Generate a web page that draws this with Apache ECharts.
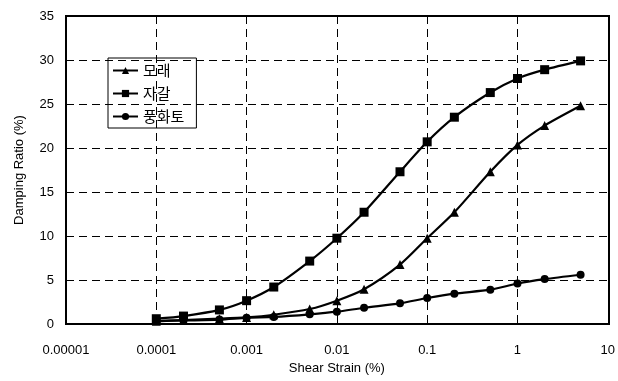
<!DOCTYPE html>
<html>
<head>
<meta charset="utf-8">
<script src="https://cdn.jsdelivr.net/npm/echarts@6/dist/echarts.min.js"></script>
<style>
  html, body { margin: 0; padding: 0; background: #fff; }
  #chart { width: 618px; height: 381px; }
</style>
</head>
<body>
<div id="chart"></div>
<script>
// Shear strain (%) at which damping was measured
const strain = [0.0001, 0.0002, 0.0005, 0.001, 0.002, 0.005, 0.01, 0.02, 0.05, 0.1, 0.2, 0.5, 1, 2, 5];

// Damping ratio (%) for each soil type
const sand = [0.3, 0.45, 0.6, 0.75, 1.05, 1.7, 2.65, 3.95, 6.75, 9.75, 12.7, 17.3, 20.35, 22.55, 24.8];
const gravel = [0.6, 0.9, 1.6, 2.65, 4.2, 7.15, 9.75, 12.7, 17.3, 20.7, 23.5, 26.3, 27.9, 28.9, 29.9];
const weathered = [0.35, 0.4, 0.5, 0.7, 0.8, 1.1, 1.4, 1.85, 2.35, 2.95, 3.45, 3.9, 4.6, 5.1, 5.6];

const seriesNames = ['모래', '자갈', '풍화토'];
const xTickLabels = ['0.00001', '0.0001', '0.001', '0.01', '0.1', '1', '10'];

const font = 'Liberation Sans, Arial, sans-serif';

function pairs(ys) { return strain.map((x, i) => [x, ys[i]]); }

function lineSeries(name, ys, symbol, size) {
  return {
    name: name,
    type: 'line',
    data: pairs(ys),
    symbol: symbol,
    symbolSize: size,
    smooth: 0.25,
    lineStyle: { color: '#000', width: 2.2 },
    itemStyle: { color: '#000' },
    animation: false
  };
}

const chart = echarts.init(document.getElementById('chart'));
chart.setOption({
  backgroundColor: '#fff',
  grid: { left: 66, right: 9, top: 16, bottom: 57 },
  legend: {
    orient: 'vertical',
    left: 108,
    top: 58,
    data: seriesNames,
    borderColor: '#000',
    borderWidth: 1,
    padding: [3, 12, 2, 4],
    itemGap: 4,
    itemWidth: 25,
    itemHeight: 9,
    textStyle: { fontFamily: 'Noto Sans CJK KR', fontSize: 15, color: '#000', lineHeight: 19 }
  },
  xAxis: {
    type: 'log',
    logBase: 10,
    min: 0.00001,
    max: 10,
    name: 'Shear Strain (%)',
    nameLocation: 'middle',
    nameGap: 37,
    nameTextStyle: { fontFamily: font, fontSize: 13, color: '#000' },
    axisLine: { show: false },
    axisTick: { show: false },
    axisLabel: {
      fontFamily: font, fontSize: 13, color: '#000', margin: 20,
      formatter: function (v) {
        const k = Math.round(Math.log10(v)) + 5;
        return xTickLabels[k] !== undefined ? xTickLabels[k] : '';
      }
    },
    splitLine: { show: true, lineStyle: { color: '#000', width: 1, type: [8, 5] } }
  },
  yAxis: {
    type: 'value',
    min: 0,
    max: 35,
    interval: 5,
    name: 'Damping Ratio (%)',
    nameLocation: 'middle',
    nameGap: 40,
    nameTextStyle: { fontFamily: font, fontSize: 13, color: '#000' },
    axisLine: { show: false },
    axisTick: { show: false },
    axisLabel: { fontFamily: font, fontSize: 13, color: '#000', margin: 12 },
    splitLine: { show: true, lineStyle: { color: '#000', width: 1, type: [8, 5] } }
  },
  graphic: [{
    type: 'rect',
    shape: { x: 66, y: 16, width: 543, height: 308 },
    style: { fill: 'none', stroke: '#000', lineWidth: 2 },
    z: 100,
    silent: true
  }],
  series: [
    lineSeries(seriesNames[0], sand, 'triangle', 9),
    lineSeries(seriesNames[1], gravel, 'rect', 9),
    lineSeries(seriesNames[2], weathered, 'circle', 8)
  ]
});
</script>
</body>
</html>
